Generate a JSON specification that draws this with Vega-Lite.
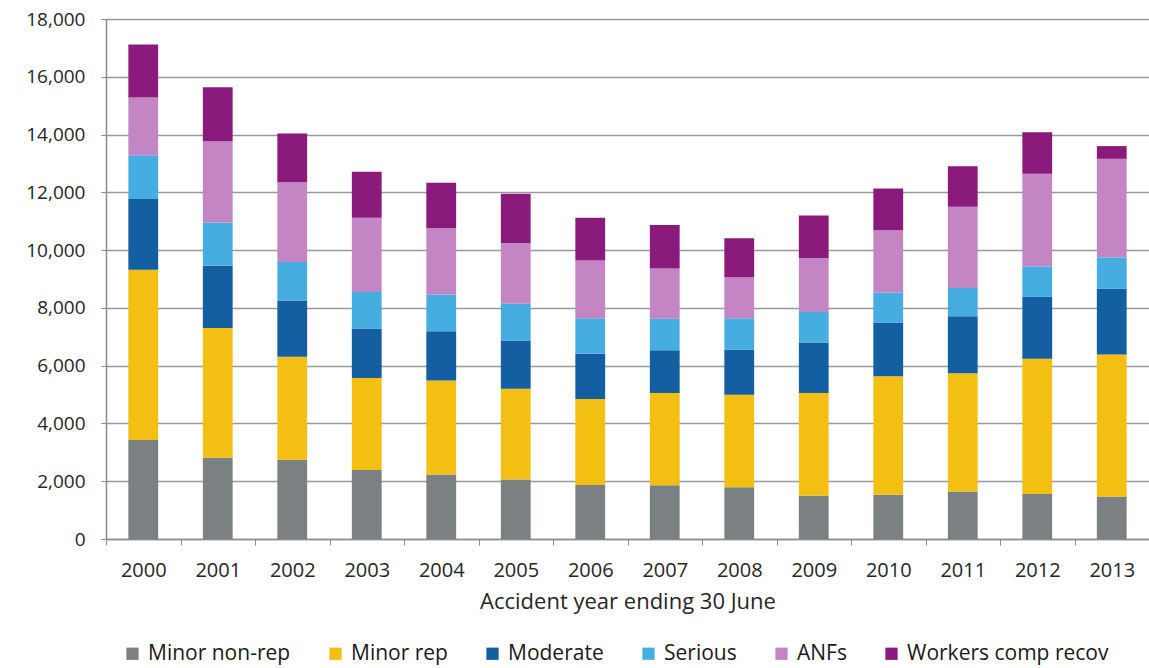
{
  "$schema": "https://vega.github.io/schema/vega-lite/v6.json",
  "autosize": {"type": "none"},
  "padding": {"left": 106, "top": 19, "right": 0, "bottom": 129},
  "width": 1043,
  "height": 520,
  "background": "white",
  "config": {
    "font": "Open Sans",
    "view": {"stroke": null},
    "axis": {"labelColor": "#262626", "titleColor": "#262626", "labelFont": "Open Sans", "titleFont": "Open Sans"}
  },
  "data": {
    "values": [
      {"year": "2000", "Minor non-rep": 3430, "Minor rep": 5890, "Moderate": 2450, "Serious": 1510, "ANFs": 2000, "Workers comp recov": 1840},
      {"year": "2001", "Minor non-rep": 2810, "Minor rep": 4490, "Moderate": 2160, "Serious": 1500, "ANFs": 2810, "Workers comp recov": 1870},
      {"year": "2002", "Minor non-rep": 2740, "Minor rep": 3570, "Moderate": 1950, "Serious": 1330, "ANFs": 2760, "Workers comp recov": 1690},
      {"year": "2003", "Minor non-rep": 2390, "Minor rep": 3180, "Moderate": 1720, "Serious": 1260, "ANFs": 2570, "Workers comp recov": 1590},
      {"year": "2004", "Minor non-rep": 2230, "Minor rep": 3260, "Moderate": 1700, "Serious": 1270, "ANFs": 2300, "Workers comp recov": 1570},
      {"year": "2005", "Minor non-rep": 2060, "Minor rep": 3140, "Moderate": 1670, "Serious": 1270, "ANFs": 2110, "Workers comp recov": 1700},
      {"year": "2006", "Minor non-rep": 1870, "Minor rep": 2980, "Moderate": 1560, "Serious": 1230, "ANFs": 2000, "Workers comp recov": 1480},
      {"year": "2007", "Minor non-rep": 1860, "Minor rep": 3190, "Moderate": 1480, "Serious": 1090, "ANFs": 1740, "Workers comp recov": 1510},
      {"year": "2008", "Minor non-rep": 1790, "Minor rep": 3200, "Moderate": 1560, "Serious": 1090, "ANFs": 1420, "Workers comp recov": 1350},
      {"year": "2009", "Minor non-rep": 1500, "Minor rep": 3550, "Moderate": 1750, "Serious": 1060, "ANFs": 1870, "Workers comp recov": 1470},
      {"year": "2010", "Minor non-rep": 1530, "Minor rep": 4100, "Moderate": 1850, "Serious": 1040, "ANFs": 2170, "Workers comp recov": 1440},
      {"year": "2011", "Minor non-rep": 1640, "Minor rep": 4100, "Moderate": 1970, "Serious": 980, "ANFs": 2810, "Workers comp recov": 1400},
      {"year": "2012", "Minor non-rep": 1560, "Minor rep": 4680, "Moderate": 2140, "Serious": 1060, "ANFs": 3200, "Workers comp recov": 1440},
      {"year": "2013", "Minor non-rep": 1470, "Minor rep": 4920, "Moderate": 2270, "Serious": 1090, "ANFs": 3410, "Workers comp recov": 440}
    ]
  },
  "transform": [
    {"fold": ["Minor non-rep", "Minor rep", "Moderate", "Serious", "ANFs", "Workers comp recov"], "as": ["category", "claims"]},
    {"calculate": "indexof(['Minor non-rep','Minor rep','Moderate','Serious','ANFs','Workers comp recov'], datum.category)", "as": "stackOrder"}
  ],
  "mark": {"type": "bar", "width": {"band": 0.4}},
  "encoding": {
    "x": {
      "field": "year",
      "type": "ordinal",
      "scale": {"paddingInner": 0, "paddingOuter": 0},
      "axis": {
        "title": "Accident year ending 30 June",
        "titleFontSize": 22,
        "titleFontWeight": "normal",
        "titlePadding": 11,
        "labelAngle": 0,
        "labelFontSize": 20,
        "labelPadding": 15,
        "tickBand": "extent",
        "tickSize": 6,
        "tickColor": "#8c8c8c",
        "domainColor": "#8c8c8c",
        "domainWidth": 1.5,
        "grid": false
      }
    },
    "y": {
      "field": "claims",
      "type": "quantitative",
      "stack": "zero",
      "scale": {"domain": [0, 18000]},
      "axis": {
        "title": null,
        "values": [0, 2000, 4000, 6000, 8000, 10000, 12000, 14000, 16000, 18000],
        "format": ",.0f",
        "labelFontSize": 19,
        "labelPadding": 16,
        "tickSize": 5,
        "tickColor": "#8c8c8c",
        "domainColor": "#8c8c8c",
        "domainWidth": 1.5,
        "gridColor": "#9a9a9a",
        "gridWidth": 1.3
      }
    },
    "color": {
      "field": "category",
      "type": "nominal",
      "sort": ["Minor non-rep", "Minor rep", "Moderate", "Serious", "ANFs", "Workers comp recov"],
      "scale": {
        "domain": ["Minor non-rep", "Minor rep", "Moderate", "Serious", "ANFs", "Workers comp recov"],
        "range": ["#7b8083", "#f3bf12", "#135fa2", "#45ade0", "#c485c4", "#8a1a7c"]
      },
      "legend": {
        "title": null,
        "orient": "none",
        "legendX": 16,
        "legendY": 624,
        "direction": "horizontal",
        "columns": 6,
        "symbolType": "square",
        "symbolSize": 150,
        "symbolStrokeWidth": 0,
        "labelFontSize": 21,
        "labelColor": "#1a1a1a",
        "labelFont": "Open Sans",
        "labelLimit": 400,
        "columnPadding": 34,
        "labelOffset": 5,
        "padding": 0
      }
    },
    "order": {"field": "stackOrder", "type": "quantitative", "sort": "ascending"}
  }
}
